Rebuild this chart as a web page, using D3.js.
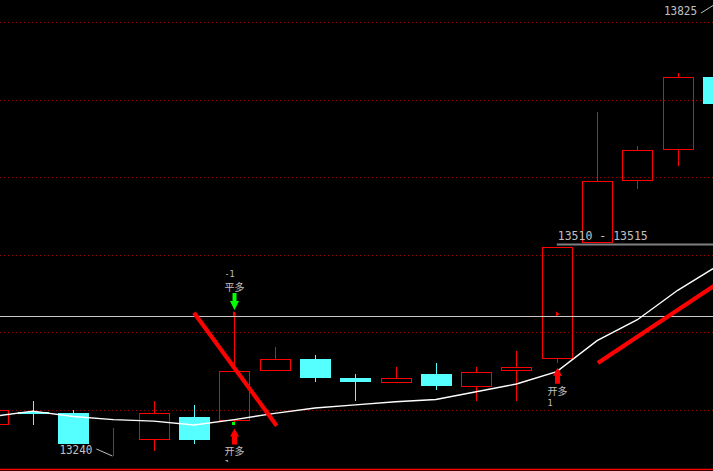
<!DOCTYPE html>
<html><head><meta charset="utf-8">
<script src="https://cdn.jsdelivr.net/npm/d3@7"></script>
<style>html,body{margin:0;padding:0;background:#000;overflow:hidden}svg{display:block}</style>
</head><body><svg id="c" width="713" height="471"></svg>
<script>
// ---- data ----
const candleIndex = d3.range(19);
const opens  = [13281,13297.4,13295,13260,13262,13290,13286,13351,13365,13341,13336,13346,13331,13351,13367,13516,13596,13636,13729];
const closes = [13300,13297,13255.5,13260,13295,13261,13350,13365,13341,13336,13341,13331,13349,13354.5,13509.5,13595,13635,13729,13695];
const highs  = [13300,13311,13300,13276,13311,13306,13426,13381,13370,13346,13355,13360,13355,13376,13510,13684,13640,13735,13825];
const lows   = [13281,13280,13255,13240,13246,13256,13282,13351,13336,13311,13336,13325,13311,13311,13360.5,13516,13585,13615,13690];
const maValues = [13291,13298,13291,13287,13285,13280,13287,13295,13302,13306,13310,13313,13323,13333,13349,13389,13416,13454,13486];
const gridPrices = [13300,13400,13500,13600,13700,13800];
const signalLevel = 13421;
const gapLevel = 13513, gapStart = 14, gapLabel = "13510 - 13515";
const lowLabel = {i:3, text:"13240"};
const highLabel = {i:18, text:"13825"};
const trendA = [[5, 13425],[7.05, 13279]];
const trendB = [[15.02, 13360],[18.2, 13470]];
const signals = [
  {i:6, dir:"down", label:"平多", qty:"-1"},
  {i:6, dir:"up", label:"开多", qty:"1"},
  {i:14, dir:"up", label:"开多", qty:"1"}
];
const flagMarks = [6, 14];
const flagPrice = 13423;

// ---- scales ----
const W = 713, H = 471;
const x = d3.scaleLinear().domain([0, 18]).range([-7.5, 718]);
const y = d3.scaleLinear().domain([13240, 13825]).range([456, 3]);
const RED = "#ff0000", CYAN = "#55ffff", TXT = "#c0c0c0";
const half = 15;

const svg = d3.select("#c");
svg.append("rect").attr("width", W).attr("height", H).attr("fill", "#000");
const defs = svg.append("defs");
defs.append("clipPath").attr("id", "plot").append("rect").attr("x", 0).attr("y", 0).attr("width", W).attr("height", 462);
const g = svg.append("g").attr("clip-path", "url(#plot)");

// grid
g.selectAll("line.grid").data(gridPrices).join("line")
  .attr("x1", 0).attr("x2", W)
  .attr("y1", d => Math.round(y(d)) + 0.5).attr("y2", d => Math.round(y(d)) + 0.5)
  .attr("stroke", "#a00000").attr("stroke-width", 1).attr("stroke-dasharray", "1,3");

// candles
const data = candleIndex.map(i => ({i, o: opens[i], c: closes[i], h: highs[i], l: lows[i]}));
const cg = g.append("g").attr("shape-rendering", "crispEdges");
data.forEach(d => {
  const cx = Math.round(x(d.i)) + 0.5;
  const up = d.c >= d.o;
  const col = up ? RED : CYAN;
  const top = y(Math.max(d.o, d.c)), bot = y(Math.min(d.o, d.c));
  if (up) {
    cg.append("line").attr("x1", cx).attr("x2", cx).attr("y1", y(d.h)).attr("y2", top).attr("stroke", col).attr("stroke-width", 1.2);
    cg.append("line").attr("x1", cx).attr("x2", cx).attr("y1", bot).attr("y2", y(d.l)).attr("stroke", col).attr("stroke-width", 1.2);
    cg.append("rect").attr("x", cx - half).attr("y", Math.round(top) + 0.5)
      .attr("width", half * 2).attr("height", Math.max(0, Math.round(bot) - Math.round(top)))
      .attr("fill", "none").attr("stroke", col).attr("stroke-width", 1.4);
  } else {
    cg.append("line").attr("x1", cx).attr("x2", cx).attr("y1", y(d.h)).attr("y2", y(d.l)).attr("stroke", col).attr("stroke-width", 1.2);
    cg.append("rect").attr("x", cx - half - 0.5).attr("y", Math.round(top))
      .attr("width", half * 2 + 1).attr("height", Math.max(1.5, Math.round(bot) - Math.round(top)))
      .attr("fill", col);
  }
});

// signal level line and gap line
g.append("line").attr("x1", 0).attr("x2", W)
  .attr("y1", Math.round(y(signalLevel)) + 0.5).attr("y2", Math.round(y(signalLevel)) + 0.5)
  .attr("stroke", "#c8c8c8").attr("stroke-width", 1);
g.append("line").attr("x1", x(gapStart)).attr("x2", W)
  .attr("y1", y(gapLevel)).attr("y2", y(gapLevel))
  .attr("stroke", "#808080").attr("stroke-width", 2);
g.append("text").attr("x", x(gapStart) + 1).attr("y", y(gapLevel) - 4.5)
  .attr("font-family", "DejaVu Sans Mono, monospace").attr("font-size", 12.5)
  .attr("textLength", 90).attr("lengthAdjust", "spacingAndGlyphs")
  .attr("fill", TXT).text(gapLabel);

// moving average
g.append("path").datum(candleIndex)
  .attr("d", d3.line().x(i => x(i)).y(i => y(maValues[i])))
  .attr("fill", "none").attr("stroke", "#ffffff").attr("stroke-width", 1.4);

// trend lines
[trendA, trendB].forEach(t => {
  g.append("line").attr("x1", x(t[0][0])).attr("y1", y(t[0][1]))
    .attr("x2", x(t[1][0])).attr("y2", y(t[1][1]))
    .attr("stroke", RED).attr("stroke-width", 4.2);
});

// small flags
flagMarks.forEach(i => {
  const cx = Math.round(x(i));
  const yy = y(flagPrice);
  g.append("path").attr("d", `M${cx-1},${yy-3} L${cx+2.5},${yy} L${cx-1},${yy+2} Z`).attr("fill", RED);
});
g.append("rect").attr("x", Math.round(x(6)) - 2).attr("y", y(lows[6]) - 1.5).attr("width", 3).attr("height", 3).attr("fill", "#00ff00");

// signals
signals.forEach(s => {
  const cx = Math.round(x(s.i)) + 0.5;
  if (s.dir === "down") {
    const tip = y(highs[s.i]) - 2;
    g.append("path").attr("d", `M${cx-2},${tip-17} L${cx+2},${tip-17} L${cx+2},${tip-9} L${cx+4.5},${tip-9} L${cx},${tip} L${cx-4.5},${tip-9} L${cx-2},${tip-9} Z`).attr("fill", "#00ff00");
    g.append("text").attr("x", cx - 10).attr("y", tip - 19).attr("font-family", "Noto Sans CJK SC, sans-serif").attr("font-size", 10).attr("fill", TXT).text(s.label);
    g.append("text").attr("x", cx - 10).attr("y", tip - 32.5).attr("font-family", "DejaVu Sans Mono, monospace").attr("font-size", 8.5).attr("fill", TXT).text(s.qty);
  } else {
    const tip = y(lows[s.i]) + 5;
    g.append("path").attr("d", `M${cx},${tip} L${cx+4.5},${tip+8} L${cx+2.5},${tip+8} L${cx+2.5},${tip+16} L${cx-2.5},${tip+16} L${cx-2.5},${tip+8} L${cx-4.5},${tip+8} Z`).attr("fill", RED);
    g.append("text").attr("x", cx - 10).attr("y", tip + 27).attr("font-family", "Noto Sans CJK SC, sans-serif").attr("font-size", 10).attr("fill", TXT).text(s.label);
    g.append("text").attr("x", cx - 10).attr("y", tip + 38.5).attr("font-family", "DejaVu Sans Mono, monospace").attr("font-size", 8.5).attr("fill", TXT).text(s.qty);
  }
});

// extreme labels
const lx = x(lowLabel.i), ly = y(lows[lowLabel.i]);
g.append("text").attr("x", lx - 54).attr("y", ly - 2).attr("font-family", "DejaVu Sans Mono, monospace")
  .attr("font-size", 12.5).attr("textLength", 33).attr("lengthAdjust", "spacingAndGlyphs").attr("fill", TXT).text(lowLabel.text);
g.append("line").attr("x1", lx - 17).attr("y1", ly - 7).attr("x2", lx - 1).attr("y2", ly).attr("stroke", TXT).attr("stroke-width", 1);
const hx = x(highLabel.i), hy = y(highs[highLabel.i]);
g.append("text").attr("x", hx - 54).attr("y", hy + 12).attr("font-family", "DejaVu Sans Mono, monospace")
  .attr("font-size", 12.5).attr("textLength", 33).attr("lengthAdjust", "spacingAndGlyphs").attr("fill", TXT).text(highLabel.text);
g.append("line").attr("x1", hx - 17).attr("y1", hy + 10).attr("x2", hx - 1).attr("y2", hy).attr("stroke", TXT).attr("stroke-width", 1);

// bottom border
svg.append("line").attr("x1", 0).attr("x2", W).attr("y1", 469.5).attr("y2", 469.5).attr("stroke", RED).attr("stroke-width", 1.5);
</script></body></html>
